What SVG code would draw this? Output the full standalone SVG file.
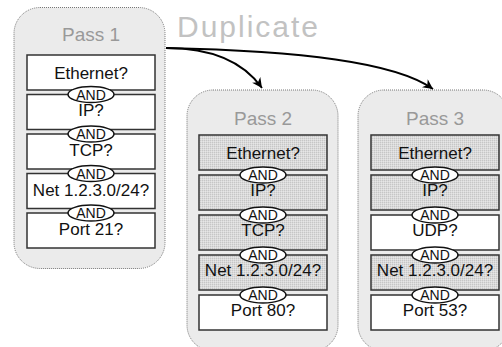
<svg xmlns="http://www.w3.org/2000/svg" width="502" height="347" viewBox="0 0 502 347">
<style>
.pass{fill:#ebebeb;stroke:#777;stroke-width:1;stroke-dasharray:1,1}
.title{font-family:"Liberation Sans",Arial,sans-serif;font-size:19px;fill:#999;text-anchor:middle}
.box{stroke:#333;stroke-width:1.5}
.w{fill:#fff}
.g{fill:url(#dots)}
.lbl{font-family:"Liberation Sans",Arial,sans-serif;font-size:17px;fill:#111;text-anchor:middle}
.and{fill:#fff;stroke:#111;stroke-width:1.5}
.andt{font-family:"Liberation Sans",Arial,sans-serif;font-size:14px;fill:#111;text-anchor:middle}
.conn{fill:none;stroke:#000;stroke-width:1.8}
.dup{font-family:"Liberation Sans",Arial,sans-serif;font-size:30px;fill:#c2c2c2}
</style>
<defs>
<pattern id="dots" width="2" height="2" patternUnits="userSpaceOnUse">
<rect width="2" height="2" fill="#dadada"/>
<rect width="1" height="1" fill="#c6c6c6"/>
<rect x="1" y="1" width="1" height="1" fill="#e6e6e6"/>
</pattern>
<marker id="ah" markerWidth="12" markerHeight="12" refX="10" refY="5" orient="auto" markerUnits="userSpaceOnUse">
<path d="M0,0 L10,5 L0,10 L3,5 Z" fill="#000"/>
</marker>
</defs>

<text class="dup" x="177" y="37" textLength="141" lengthAdjust="spacing">Duplicate</text>

<g id="pass1">
<rect class="pass" x="14" y="7.5" width="151" height="261" rx="26" ry="26"/>
<text class="title" x="91" y="41">Pass 1</text>
<rect class="box w" x="27" y="55" width="128" height="35"/>
<text class="lbl" x="91" y="79">Ethernet?</text>
<rect class="box w" x="27" y="94.5" width="128" height="35"/>
<text class="lbl" x="91" y="116">IP?</text>
<rect class="box w" x="27" y="134" width="128" height="35"/>
<text class="lbl" x="91" y="155.5">TCP?</text>
<rect class="box w" x="27" y="173.5" width="128" height="35"/>
<text class="lbl" x="91" y="196">Net 1.2.3.0/24?</text>
<rect class="box w" x="27" y="213" width="128" height="35"/>
<text class="lbl" x="91" y="234.5">Port 21?</text>
<ellipse class="and" cx="91" cy="94.5" rx="23" ry="8"/><text class="andt" x="91" y="99.5">AND</text>
<ellipse class="and" cx="91" cy="134" rx="23" ry="8"/><text class="andt" x="91" y="139">AND</text>
<ellipse class="and" cx="91" cy="173.5" rx="23" ry="8"/><text class="andt" x="91" y="178.5">AND</text>
<ellipse class="and" cx="91" cy="213" rx="23" ry="8"/><text class="andt" x="91" y="218">AND</text>
</g>

<g id="pass2">
<rect class="pass" x="187" y="90" width="151" height="261" rx="26" ry="26"/>
<text class="title" x="263" y="125">Pass 2</text>
<rect class="box g" x="199" y="135" width="128" height="35"/>
<text class="lbl" x="263" y="159">Ethernet?</text>
<rect class="box g" x="199" y="175" width="128" height="35"/>
<text class="lbl" x="263" y="196">IP?</text>
<rect class="box g" x="199" y="215" width="128" height="35"/>
<text class="lbl" x="263" y="236">TCP?</text>
<rect class="box g" x="199" y="255" width="128" height="35"/>
<text class="lbl" x="263" y="276">Net 1.2.3.0/24?</text>
<rect class="box w" x="199" y="295" width="128" height="35"/>
<text class="lbl" x="263" y="316">Port 80?</text>
<ellipse class="and" cx="263" cy="175" rx="23" ry="8"/><text class="andt" x="263" y="180">AND</text>
<ellipse class="and" cx="263" cy="215" rx="23" ry="8"/><text class="andt" x="263" y="220">AND</text>
<ellipse class="and" cx="263" cy="255" rx="23" ry="8"/><text class="andt" x="263" y="260">AND</text>
<ellipse class="and" cx="263" cy="295" rx="23" ry="8"/><text class="andt" x="263" y="300">AND</text>
</g>

<g id="pass3">
<rect class="pass" x="358" y="90" width="151" height="261" rx="26" ry="26"/>
<text class="title" x="435" y="125">Pass 3</text>
<rect class="box g" x="371" y="135" width="128" height="35"/>
<text class="lbl" x="435" y="159">Ethernet?</text>
<rect class="box g" x="371" y="175" width="128" height="35"/>
<text class="lbl" x="435" y="196">IP?</text>
<rect class="box w" x="371" y="215" width="128" height="35"/>
<text class="lbl" x="435" y="236">UDP?</text>
<rect class="box g" x="371" y="255" width="128" height="35"/>
<text class="lbl" x="435" y="276">Net 1.2.3.0/24?</text>
<rect class="box w" x="371" y="295" width="128" height="35"/>
<text class="lbl" x="435" y="316">Port 53?</text>
<ellipse class="and" cx="435" cy="175" rx="23" ry="8"/><text class="andt" x="435" y="180">AND</text>
<ellipse class="and" cx="435" cy="215" rx="23" ry="8"/><text class="andt" x="435" y="220">AND</text>
<ellipse class="and" cx="435" cy="255" rx="23" ry="8"/><text class="andt" x="435" y="260">AND</text>
<ellipse class="and" cx="435" cy="295" rx="23" ry="8"/><text class="andt" x="435" y="300">AND</text>
</g>

<g id="connectors">
<path class="conn" d="M166,48 C215,48 245,64 262,88" marker-end="url(#ah)"/>
<path class="conn" d="M166,48 C300,51 395,62 433,89" marker-end="url(#ah)"/>
</g>
</svg>
